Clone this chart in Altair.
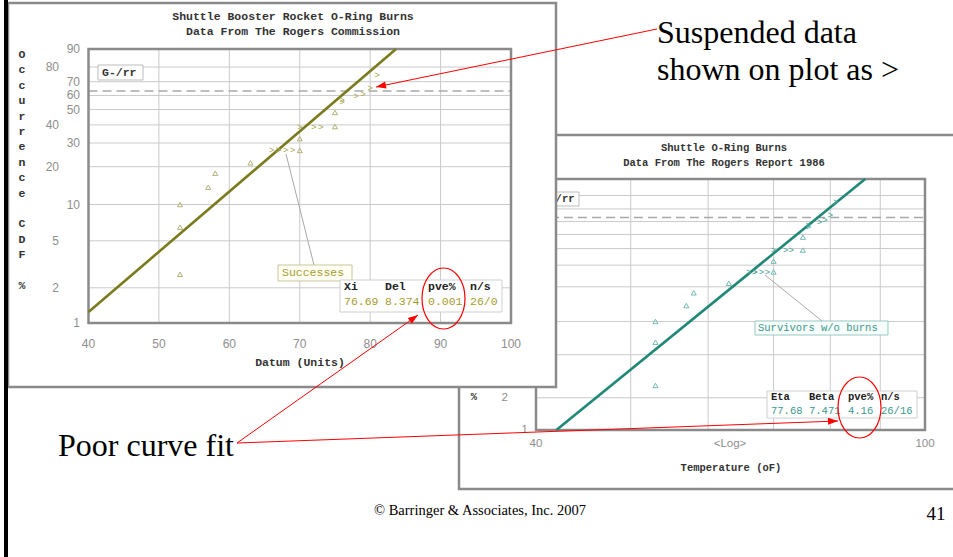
import math
import altair as alt
import pandas as pd

W, H = 953, 557

# ---------------- data ----------------
# O-ring damage (failures) and undamaged flights (suspensions), launch temperature in F
fail_temp = [53, 53, 53, 57, 58, 63, 70, 70, 75, 75]
fail_cdf = [2.6, 6.5, 10.0, 13.8, 17.8, 21.4, 26.5, 32.2, 39.0, 48.0]
susp_temp = [66, 67, 67, 68, 69, 70, 72, 73, 76, 76, 78, 79, 80, 81]
susp_cdf = [26.5, 26.5, 26.5, 26.5, 26.5, 39.0, 39.0, 39.0, 55.5, 57.0, 59.5, 61.0, 65.5, 75.0]

# fitted parameters
gumbel_xi, gumbel_del, gumbel_pve, gumbel_ns = 76.69, 8.374, 0.001, "26/0"
weibull_eta, weibull_beta, weibull_pve, weibull_ns = 77.68, 7.471, 4.16, "26/16"

# axis ticks
cdf_range = [1, 90]
cdf_labels_inner = [90, 70, 60, 50, 30, 10, 1]
cdf_labels_outer = [80, 40, 20, 5, 2]
cdf_gridlines = [80, 70, 60, 50, 40, 30, 20, 10, 5, 2]
cdf_char_life = [63.2]
temp_range = [40, 100]
temp_gridlines = [50, 60, 70, 80, 90]
datum_labels = [40, 50, 60, 70, 80, 90, 100]
temp_log_labels = [40, 100]

# ---------------- scales ----------------
def weib_t(p):
    return math.log(-math.log(1 - p / 100.0))

T_LO, T_HI = weib_t(cdf_range[0]), weib_t(cdf_range[1])
T_EXPR = "log(-log(1 - datum.{} / 100))"

PIX_X = alt.Scale(domain=[0, W], range=[0, W], nice=False, zero=False)
PIX_Y = alt.Scale(domain=[0, H], range=[0, H], nice=False, zero=False)

GRID = "#cacaca"
FRAME = "#8a8a8a"
TICK = "#8e8e8e"
MONO = "Liberation Mono"
SANS = "Liberation Sans"
SERIF = "Liberation Serif"

left = dict(
    xs=alt.Scale(domain=temp_range, range=[88.5, 511], nice=False, zero=False),
    ys=alt.Scale(domain=[T_LO, T_HI], range=[323, 49], nice=False, zero=False),
    line="#7b7b1d", tri="#b3b274", chev="#a9a650", val="#a59c2e", fs=11.5, tfs=12,
)
right = dict(
    xs=alt.Scale(type="log", domain=temp_range, range=[536, 925], nice=False),
    ys=alt.Scale(domain=[T_LO, T_HI], range=[430, 179], nice=False, zero=False),
    line="#1f8877", tri="#73bcb1", chev="#4aa397", val="#3a988c", fs=10.5, tfs=11.5,
)

# fit lines from the stated parameters, clipped to the plot box
left_fit = pd.DataFrame({
    "x": [temp_range[0], gumbel_xi + gumbel_del * T_HI],
    "t": [(temp_range[0] - gumbel_xi) / gumbel_del, T_HI],
})
right_fit = pd.DataFrame({
    "x": [weibull_eta * math.exp(T_LO / weibull_beta), weibull_eta * math.exp(T_HI / weibull_beta)],
    "t": [T_LO, T_HI],
})


def PX(f):
    return alt.X(f, type="quantitative", scale=PIX_X, axis=None)


def PY(f):
    return alt.Y(f, type="quantitative", scale=PIX_Y, axis=None)


def text_rows(rows, **kw):
    df = pd.DataFrame(rows, columns=["px", "py", "label"])
    return alt.Chart(df).mark_text(**kw).encode(x=PX("px"), y=PY("py"), text="label:N")


def rect_rows(rows, **kw):
    df = pd.DataFrame(rows, columns=["x0", "y0", "x1", "y1"])
    return alt.Chart(df).mark_rect(**kw).encode(x=PX("x0"), x2="x1:Q", y=PY("y0"), y2="y1:Q")


def rule_rows(rows, **kw):
    df = pd.DataFrame(rows, columns=["x0", "y0", "x1", "y1"])
    return alt.Chart(df).mark_rule(**kw).encode(x=PX("x0"), x2="x1:Q", y=PY("y0"), y2="y1:Q")


def prob_plot(p, fit):
    xs, ys = p["xs"], p["ys"]

    def X(f):
        return alt.X(f, type="quantitative", scale=xs, axis=None)

    def Y(f):
        return alt.Y(f, type="quantitative", scale=ys, axis=None)

    out = []
    vg = pd.DataFrame({"x": temp_gridlines, "lo": cdf_range[0], "hi": cdf_range[1]})
    out.append(alt.Chart(vg).transform_calculate(t1=T_EXPR.format("lo"), t2=T_EXPR.format("hi"))
               .mark_rule(color=GRID, strokeWidth=1).encode(x=X("x"), y=Y("t1"), y2="t2:Q"))
    hg = pd.DataFrame({"F": cdf_gridlines, "x1": temp_range[0], "x2": temp_range[1]})
    out.append(alt.Chart(hg).transform_calculate(t=T_EXPR.format("F"))
               .mark_rule(color=GRID, strokeWidth=1).encode(x=X("x1"), x2="x2:Q", y=Y("t")))
    dg = pd.DataFrame({"F": cdf_char_life, "x1": temp_range[0], "x2": temp_range[1]})
    out.append(alt.Chart(dg).transform_calculate(t=T_EXPR.format("F"))
               .mark_rule(color="#a9a9a9", strokeWidth=1.5, strokeDash=[9, 5])
               .encode(x=X("x1"), x2="x2:Q", y=Y("t")))
    fr = pd.DataFrame({"x1": [temp_range[0]], "x2": [temp_range[1]],
                       "lo": [cdf_range[0]], "hi": [cdf_range[1]]})
    out.append(alt.Chart(fr).transform_calculate(t1=T_EXPR.format("lo"), t2=T_EXPR.format("hi"))
               .mark_rect(fill="transparent", stroke=FRAME, strokeWidth=2.5)
               .encode(x=X("x1"), x2="x2:Q", y=Y("t1"), y2="t2:Q"))
    out.append(alt.Chart(fit).mark_line(color=p["line"], strokeWidth=2.6)
               .encode(x=X("x"), y=Y("t")))
    fd = pd.DataFrame({"temp": fail_temp, "F": fail_cdf})
    out.append(alt.Chart(fd).transform_calculate(t=T_EXPR.format("F"))
               .mark_point(shape="triangle-up", filled=False, size=26, strokeWidth=1, color=p["tri"], opacity=1)
               .encode(x=X("temp"), y=Y("t")))
    sd = pd.DataFrame({"temp": susp_temp, "F": susp_cdf})
    out.append(alt.Chart(sd).transform_calculate(t=T_EXPR.format("F"))
               .mark_text(text=">", font=SANS, fontSize=9, color=p["chev"], baseline="middle")
               .encode(x=X("temp"), y=Y("t")))
    return out, X, Y


def cdf_tick_labels(p, Y, values, x_right, max_f=100):
    df = pd.DataFrame({"F": values, "label": [str(v) for v in values]})
    return (alt.Chart(df).transform_filter(f"datum.F <= {max_f}")
            .transform_calculate(t=T_EXPR.format("F"))
            .mark_text(align="right", baseline="middle", font=SANS, fontSize=p["tfs"], color=TICK)
            .encode(x=alt.value(x_right), y=Y("t"), text="label:N"))


def temp_tick_labels(p, X, values, y):
    df = pd.DataFrame({"x": values, "label": [str(v) for v in values]})
    return (alt.Chart(df)
            .mark_text(align="center", baseline="middle", font=SANS, fontSize=p["tfs"], color=TICK)
            .encode(x=X("x"), y=alt.value(y), text="label:N"))


def stacked_title(x, y0, step, fs, y_min=0):
    letters = list("Occurrence") + [""] + list("CDF") + [""] + ["%"]
    rows = [(x, y0 + i * step, c) for i, c in enumerate(letters) if c and y0 + i * step > y_min]
    return text_rows(rows, font=MONO, fontSize=fs, fontWeight="bold", color="#333333",
                     align="center", baseline="middle")


layers = []

# ---------------- right panel: Weibull plot ----------------
layers.append(rect_rows([(459, 135, 960, 489)], fill="white", stroke=FRAME, strokeWidth=2.5))
r_layers, RX, RY = prob_plot(right, right_fit)
layers += r_layers
layers.append(text_rows([(724, 148, "Shuttle O-Ring Burns"),
                         (724, 163, "Data From The Rogers Report 1986")],
                        font=MONO, fontSize=right["fs"], fontWeight="bold", color="#333333",
                        align="center", baseline="middle"))
# only the lowest labels and axis-title glyph sit below the front panel
layers.append(cdf_tick_labels(right, RY, cdf_labels_inner, 528, max_f=2))
layers.append(cdf_tick_labels(right, RY, cdf_labels_outer, 508, max_f=2))
layers.append(stacked_title(474, 184, 14.2, right["fs"], y_min=388))
layers.append(temp_tick_labels(right, RX, temp_log_labels, 444))
layers.append(text_rows([(730, 444, "<Log>")], font=SANS, fontSize=right["tfs"], color=TICK,
                        align="center", baseline="middle"))
layers.append(text_rows([(731, 468, "Temperature (oF)")], font=MONO, fontSize=right["fs"],
                        fontWeight="bold", color="#333333", align="center", baseline="middle"))
layers.append(rect_rows([(540, 192, 579, 206)], fill="white", stroke="#bdbdbd", strokeWidth=1))
layers.append(text_rows([(543, 199, "G-/rr")], font=MONO, fontSize=right["fs"], fontWeight="bold",
                        color="#333333", align="left", baseline="middle"))
layers.append(rule_rows([(765, 275, 822, 321)], color="#a8a8a8", strokeWidth=1))
layers.append(rect_rows([(755, 321, 888, 335)], fill="#f6fdfb", stroke="#99c9c2", strokeWidth=1))
layers.append(text_rows([(758, 328, "Survivors w/o burns")], font=MONO, fontSize=right["fs"],
                        color=right["val"], align="left", baseline="middle"))
layers.append(rect_rows([(767, 391, 917, 418)], fill="white", stroke="#cfcfcf", strokeWidth=1))
r_cols = [771, 809, 848, 881]
r_names = ["Eta", "Beta", "pve%", "n/s"]
r_vals = [f"{weibull_eta:.2f}", f"{weibull_beta:.3f}", f"{weibull_pve:g}", weibull_ns]
layers.append(text_rows([(x, 397, n) for x, n in zip(r_cols, r_names)], font=MONO,
                        fontSize=right["fs"], fontWeight="bold", color="#222222",
                        align="left", baseline="middle"))
layers.append(text_rows([(x, 411, v) for x, v in zip(r_cols, r_vals)], font=MONO,
                        fontSize=right["fs"], color=right["val"], align="left", baseline="middle"))

# ---------------- left panel: Gumbel plot ----------------
layers.append(rect_rows([(8, 3, 556, 387)], fill="white", stroke=FRAME, strokeWidth=2.5))
l_layers, LX, LY = prob_plot(left, left_fit)
layers += l_layers
layers.append(text_rows([(293, 17, "Shuttle Booster Rocket O-Ring Burns"),
                         (293, 32, "Data From The Rogers Commission")],
                        font=MONO, fontSize=left["fs"], fontWeight="bold", color="#333333",
                        align="center", baseline="middle"))
layers.append(cdf_tick_labels(left, LY, cdf_labels_inner, 80))
layers.append(cdf_tick_labels(left, LY, cdf_labels_outer, 59))
layers.append(stacked_title(22, 55, 15.4, left["fs"]))
layers.append(temp_tick_labels(left, LX, datum_labels, 344))
layers.append(text_rows([(300, 363, "Datum (Units)")], font=MONO, fontSize=left["fs"],
                        fontWeight="bold", color="#333333", align="center", baseline="middle"))
layers.append(rect_rows([(98, 65, 143, 80)], fill="white", stroke="#bdbdbd", strokeWidth=1))
layers.append(text_rows([(102, 72.5, "G-/rr")], font=MONO, fontSize=left["fs"], fontWeight="bold",
                        color="#333333", align="left", baseline="middle"))
layers.append(rule_rows([(286, 154, 314, 265)], color="#a8a8a8", strokeWidth=1))
layers.append(rect_rows([(278, 265, 352, 281)], fill="#fffff3", stroke="#c9c59c", strokeWidth=1))
layers.append(text_rows([(282, 273, "Successes")], font=MONO, fontSize=left["fs"],
                        color=left["val"], align="left", baseline="middle"))
layers.append(rect_rows([(340, 280, 502, 312)], fill="white", stroke="#cfcfcf", strokeWidth=1))
l_cols = [344, 385, 428, 470]
l_names = ["Xi", "Del", "pve%", "n/s"]
l_vals = [f"{gumbel_xi:.2f}", f"{gumbel_del:.3f}", f"{gumbel_pve:.3f}", gumbel_ns]
layers.append(text_rows([(x, 287, n) for x, n in zip(l_cols, l_names)], font=MONO,
                        fontSize=left["fs"], fontWeight="bold", color="#222222",
                        align="left", baseline="middle"))
layers.append(text_rows([(x, 302, v) for x, v in zip(l_cols, l_vals)], font=MONO,
                        fontSize=left["fs"], color=left["val"], align="left", baseline="middle"))

# ---------------- slide annotations ----------------
layers.append(rect_rows([(4, 0, 8, H)], fill="black"))
layers.append(text_rows([(657, 43, "Suspended data"), (657, 80, "shown on plot as >")],
                        font=SERIF, fontSize=32, color="black", align="left", baseline="alphabetic"))
layers.append(text_rows([(58, 456, "Poor curve fit")], font=SERIF, fontSize=32, color="black",
                        align="left", baseline="alphabetic"))
layers.append(text_rows([(480, 515, "\u00a9 Barringer & Associates, Inc. 2007")], font=SERIF,
                        fontSize=14.5, color="black", align="center", baseline="alphabetic"))
layers.append(text_rows([(936, 520, "41")], font=SERIF, fontSize=19, color="black",
                        align="center", baseline="alphabetic"))

arrows = [((657, 29), (376, 87)), ((237, 443), (418, 315)), ((237, 443), (838, 421))]
layers.append(rule_rows([(a[0], a[1], b[0], b[1]) for a, b in arrows], color="#ff0000", strokeWidth=1))
HEAD = "M 0 0 L -1 -0.35 L -1 0.35 Z"
for a, b in arrows:
    ang = math.degrees(math.atan2(b[1] - a[1], b[0] - a[0])) % 360
    layers.append(
        alt.Chart(pd.DataFrame({"px": [b[0]], "py": [b[1]]}))
        .mark_point(shape=HEAD, filled=True, size=400, angle=ang, color="#ff0000", opacity=1)
        .encode(x=PX("px"), y=PY("py"))
    )

ELLIPSE = "M -0.705 0 A 0.705 1 0 1 0 0.705 0 A 0.705 1 0 1 0 -0.705 0 Z"
layers.append(
    alt.Chart(pd.DataFrame({"px": [443.5, 859.5], "py": [298.5, 407.5]}))
    .mark_point(shape=ELLIPSE, filled=False, size=3721, strokeWidth=1.2, color="#ff0000", opacity=1)
    .encode(x=PX("px"), y=PY("py"))
)

chart = (
    alt.layer(*layers)
    .resolve_scale(x="independent", y="independent")
    .properties(width=W, height=H, padding=0, background="white",
                autosize=alt.AutoSizeParams(type="none"))
    .configure_view(strokeWidth=0)
)

chart.save("out.html", embed_options={"renderer": "svg", "actions": False})
